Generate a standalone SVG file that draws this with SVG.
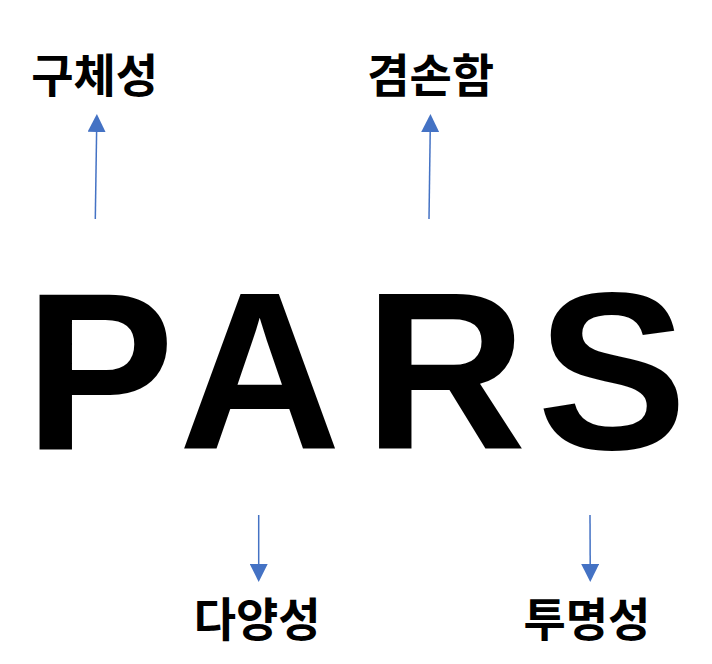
<svg xmlns="http://www.w3.org/2000/svg" width="712" height="664" viewBox="0 0 712 664">
<defs>
<style>
.big{font-family:"Liberation Sans",Arial,sans-serif;font-weight:bold;font-size:225px;fill:#000}
.lbl{font-family:"Noto Sans CJK KR","Noto Sans",sans-serif;font-weight:bold;font-size:46px;fill:#000;text-anchor:middle}
.conn{stroke:#4472C4;stroke-width:1.5;fill:none;marker-end:url(#ah)}
</style>
<marker id="ah" viewBox="0 0 18 18" refX="0" refY="9" markerWidth="18" markerHeight="18" markerUnits="userSpaceOnUse" orient="auto">
<path d="M0,0 L18,9 L0,18 Z" fill="#4472C4"/>
</marker>
</defs>
<rect width="712" height="664" fill="#fff"/>
<g id="word">
<text class="big" x="24.6" y="449">P</text>
<text class="big" x="178.6" y="449">A</text>
<text class="big" x="364" y="449">R</text>
<text class="big" x="537" y="449">S</text>
</g>
<g id="connectors">
<path class="conn" d="M95.3,219 L96.6,132"/>
<path class="conn" d="M429,219 L430.2,132"/>
<path class="conn" d="M258.7,515 L258.7,564"/>
<path class="conn" d="M590,515 L590.2,564"/>
</g>
<g id="n1"><text class="lbl" x="94.7" y="92">구체성</text></g>
<g id="n2"><text class="lbl" x="430.7" y="92">겸손함</text></g>
<g id="n3"><text class="lbl" x="257.2" y="636">다양성</text></g>
<g id="n4"><text class="lbl" x="586.9" y="636">투명성</text></g>
</svg>
